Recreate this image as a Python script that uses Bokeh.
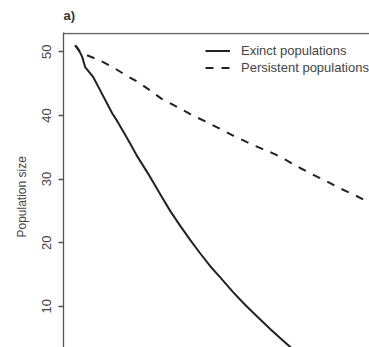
from bokeh.plotting import figure
from bokeh.models import (ColumnDataSource, LinearAxis, FixedTicker, Title,
                          Legend, LegendItem, Range1d)
from bokeh.embed import file_html
from bokeh.resources import INLINE

# Time (arbitrary units) and mean population size
extinct_t = [0, 1.0, 2.4, 3.4, 6.2, 8.6, 11.0, 12.7, 14.4, 16.8, 18.8, 21.2,
             25.7, 29.1, 32.5, 36.0, 39.4, 42.8, 46.2, 49.7, 54.1, 58.2,
             62.7, 66.8, 70.2, 73.6, 77.1]
extinct_n = [51.0, 50.5, 49.2, 47.6, 46.0, 43.9, 41.8, 40.3, 39.1, 37.2, 35.6, 33.6,
             30.3, 27.6, 25.0, 22.6, 20.4, 18.3, 16.3, 14.5, 12.2, 10.2,
             8.2, 6.4, 5.0, 3.6, 2.3]

persist_t = [0, 1.7, 8.6, 13.2, 17.7, 21.7, 25.7, 29.6, 34.2, 39.4, 44.5, 49.6,
             54.2, 58.8, 63.4, 67.9, 72.5, 77.1, 82.2, 86.2, 90.8, 95.3, 99.9]
persist_n = [51.0, 49.9, 48.6, 47.5, 46.2, 45.2, 43.9, 42.6, 41.5, 40.2, 39.05, 37.9,
             36.8, 35.8, 34.85, 34.0, 32.9, 31.7, 30.5, 29.6, 28.5, 27.55, 26.5]

y_ticks = [10, 20, 30, 40, 50]
legend_labels = ["Exinct populations", "Persistent populations"]
panel_label = "a)"
y_label = "Population size"

FONT = "Liberation Sans"

p = figure(width=369, height=347, output_backend="svg", toolbar_location=None,
           x_range=Range1d(-4.0, 100.7), y_range=Range1d(3.53, 53.03),
           x_axis_location=None, y_axis_location=None,
           min_border_left=63, min_border_top=32, min_border_right=0,
           min_border_bottom=0)
p.outline_line_color = None
p.grid.visible = False
p.background_fill_color = "white"
p.border_fill_color = "white"

p.title.text = panel_label
p.title.text_font = FONT
p.title.text_font_size = "13px"
p.title.text_font_style = "bold"
p.title.text_color = "#333333"
p.title.align = "left"
p.title.vertical_align = "top"
p.title.standoff = 15

yaxis = LinearAxis(ticker=FixedTicker(ticks=y_ticks))
yaxis.axis_line_color = "#555555"
yaxis.axis_line_width = 1.3
yaxis.major_tick_line_color = "#555555"
yaxis.major_tick_line_width = 1.3
yaxis.major_tick_in = 0
yaxis.major_tick_out = 5
yaxis.minor_tick_line_color = None
yaxis.major_label_orientation = "vertical"
yaxis.major_label_text_font = FONT
yaxis.major_label_text_font_size = "13px"
yaxis.major_label_text_color = "#444444"
yaxis.major_label_standoff = 7
p.add_layout(yaxis, "left")

ytitle = Title(text=y_label, align="left", offset=110, standoff=21,
               text_font=FONT, text_font_size="12px", text_font_style="normal",
               text_color="#444444")
p.add_layout(ytitle, "left")

# top edge of the R-style box (right and bottom edges are cropped away)
p.hspan(y=[52.85], line_color="#666666", line_width=1.5)

src_e = ColumnDataSource(dict(x=extinct_t, y=extinct_n))
src_p = ColumnDataSource(dict(x=persist_t, y=persist_n))
r1 = p.line("x", "y", source=src_e, line_color="#222222", line_width=2)
r2 = p.line("x", "y", source=src_p, line_color="#222222", line_width=2,
            line_dash="8 8")

legend = Legend(items=[LegendItem(label=legend_labels[0], renderers=[r1]),
                       LegendItem(label=legend_labels[1], renderers=[r2])],
                location=(142, 271.5), padding=0, margin=0, spacing=0,
                glyph_width=25, glyph_height=17, label_height=17,
                label_standoff=11, border_line_color=None,
                background_fill_alpha=0,
                label_text_font=FONT, label_text_font_size="13px",
                label_text_color="#444444")
p.add_layout(legend)

open("out.html", "w").write(file_html(p, INLINE))
